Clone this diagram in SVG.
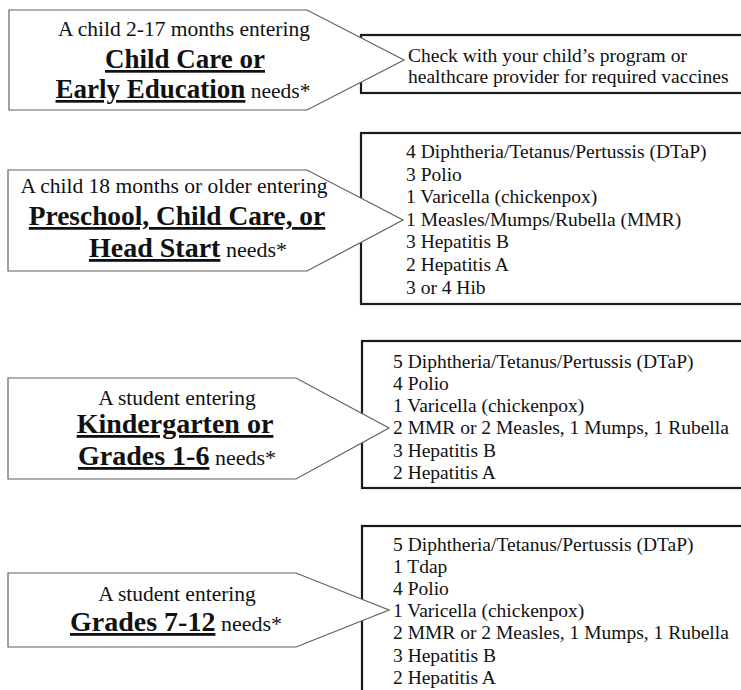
<svg xmlns="http://www.w3.org/2000/svg" width="741" height="690" viewBox="0 0 741 690">
<style>
.box{fill:#fff;stroke:#1a1a1a;stroke-width:2.2}
.arrow{fill:#fff;stroke:#606060;stroke-width:1.2}
text{font-family:"Liberation Serif","Times New Roman",serif;fill:#111}
.lead{font-size:21.5px;text-anchor:middle}
.big{font-size:27px;font-weight:bold;text-decoration:underline}
.big2{font-size:28px;font-weight:bold;text-decoration:underline}
.nd{font-size:21.5px;font-weight:normal;text-decoration:none}
.list{font-size:19.5px}
</style>
<rect width="741" height="690" fill="#fff"/>

<g id="group1">
  <g id="box1">
    <rect class="box" x="361" y="35" width="400" height="58"/>
    <text class="list" x="408" y="62">Check with your child’s program or</text>
    <text class="list" x="408" y="83">healthcare provider for required vaccines</text>
  </g>
  <g id="arrow1">
    <polygon class="arrow" points="9,10 307,10 404,60 307,110 9,110"/>
    <text class="lead" x="184" y="36">A child 2-17 months entering</text>
    <text class="lead" x="185" y="68"><tspan class="big">Child Care or</tspan></text>
    <text class="lead" x="183" y="98"><tspan class="big">Early Education</tspan><tspan class="nd"> needs*</tspan></text>
  </g>
</g>

<g id="group2">
  <g id="box2">
    <rect class="box" x="361" y="133" width="400" height="171"/>
    <text class="list" x="406" y="158">4 Diphtheria/Tetanus/Pertussis (DTaP)</text>
    <text class="list" x="406" y="180.6">3 Polio</text>
    <text class="list" x="406" y="203.2">1 Varicella (chickenpox)</text>
    <text class="list" x="406" y="225.8">1 Measles/Mumps/Rubella (MMR)</text>
    <text class="list" x="406" y="248.4">3 Hepatitis B</text>
    <text class="list" x="406" y="271">2 Hepatitis A</text>
    <text class="list" x="406" y="293.6">3 or 4 Hib</text>
  </g>
  <g id="arrow2">
    <polygon class="arrow" points="8,170 307,170 403,220 307,271 8,271"/>
    <text class="lead" x="174" y="193">A child 18 months or older entering</text>
    <text class="lead" x="177" y="225"><tspan class="big" style="font-size:27.4px">Preschool, Child Care, or</tspan></text>
    <text class="lead" x="188" y="257"><tspan class="big2">Head Start</tspan><tspan class="nd" style="font-size:22px"> needs*</tspan></text>
  </g>
</g>

<g id="group3">
  <g id="box3">
    <rect class="box" x="362" y="341" width="400" height="147"/>
    <text class="list" x="393" y="367.5">5 Diphtheria/Tetanus/Pertussis (DTaP)</text>
    <text class="list" x="393" y="389.8">4 Polio</text>
    <text class="list" x="393" y="412.1">1 Varicella (chickenpox)</text>
    <text class="list" x="393" y="434.4">2 MMR or 2 Measles, 1 Mumps, 1 Rubella</text>
    <text class="list" x="393" y="456.7">3 Hepatitis B</text>
    <text class="list" x="393" y="479">2 Hepatitis A</text>
  </g>
  <g id="arrow3">
    <polygon class="arrow" points="8,378 296,378 389,428 296,479 8,479"/>
    <text class="lead" x="177" y="405">A student entering</text>
    <text class="lead" x="175" y="433"><tspan class="big2">Kindergarten or</tspan></text>
    <text class="lead" x="177" y="465"><tspan class="big2">Grades 1-6</tspan><tspan class="nd" style="font-size:22px"> needs*</tspan></text>
  </g>
</g>

<g id="group4">
  <g id="box4">
    <rect class="box" x="362" y="526" width="400" height="180"/>
    <text class="list" x="393" y="550.5">5 Diphtheria/Tetanus/Pertussis (DTaP)</text>
    <text class="list" x="393" y="572.7">1 Tdap</text>
    <text class="list" x="393" y="594.9">4 Polio</text>
    <text class="list" x="393" y="617.1">1 Varicella (chickenpox)</text>
    <text class="list" x="393" y="639.3">2 MMR or 2 Measles, 1 Mumps, 1 Rubella</text>
    <text class="list" x="393" y="661.5">3 Hepatitis B</text>
    <text class="list" x="393" y="683.7">2 Hepatitis A</text>
  </g>
  <g id="arrow4">
    <polygon class="arrow" points="8,573 296,573 389,610 296,647 8,647"/>
    <text class="lead" x="177" y="601">A student entering</text>
    <text class="lead" x="176" y="631"><tspan class="big2">Grades 7-12</tspan><tspan class="nd" style="font-size:22px"> needs*</tspan></text>
  </g>
</g>
</svg>
